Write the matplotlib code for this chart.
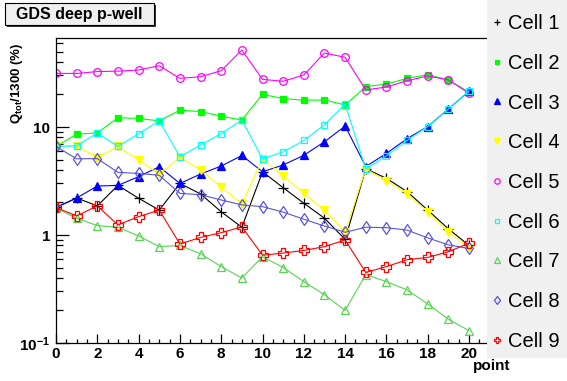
import matplotlib
matplotlib.use("Agg")
import matplotlib.pyplot as plt
from matplotlib.patches import Rectangle
from matplotlib.lines import Line2D
from matplotlib.ticker import FixedLocator, MultipleLocator, NullFormatter

plt.rcParams['font.family'] = ['Liberation Sans', 'DejaVu Sans']
plt.rcParams['mathtext.fontset'] = 'custom'
plt.rcParams['mathtext.rm'] = 'Liberation Sans:bold'
plt.rcParams['mathtext.it'] = 'Liberation Sans:bold'
plt.rcParams['mathtext.bf'] = 'Liberation Sans:bold'

# data (21 points, 0..20)
points = list(range(21))
cell1 = [1.80, 2.2, 1.86, 2.88, 2.19, 1.70, 3.0, 2.4, 1.64, 1.18, 3.85, 2.74, 1.97, 1.43, 0.91,
         4.1, 3.35, 2.52, 1.70, 1.14, 0.80]
cell2 = [6.6, 8.6, 8.8, 12.2, 12.0, 11.4, 14.3, 13.9, 12.6, 11.6, 20.1, 18.3, 17.7, 17.8, 16.0,
         23.6, 25.0, 28.2, 30.5, 27.3, 21.0]
cell3 = [1.80, 2.2, 2.84, 2.88, 3.47, 4.29, 3.0, 3.67, 4.35, 5.45, 3.85, 4.45, 5.47, 7.3, 10.2,
         4.3, 5.7, 7.8, 10.1, 14.7, 21.5]
cell4 = [6.6, 6.7, 5.2, 6.6, 4.95, 3.67, 5.24, 4.0, 2.77, 1.94, 5.06, 3.54, 2.43, 1.70, 1.07,
         4.08, 3.18, 2.4, 1.64, 1.07, 0.76]
cell5 = [31.4, 31.3, 32.6, 32.9, 33.7, 36.9, 28.2, 29.2, 33.2, 51.6, 27.6, 26.5, 30.3, 48.4, 44.2,
         22.0, 23.5, 26.8, 29.7, 27.3, 20.5]
cell6 = [6.6, 6.7, 8.8, 6.6, 8.66, 11.4, 5.3, 6.8, 8.7, 11.6, 5.06, 5.9, 7.5, 10.5, 16.3,
         4.08, 5.4, 7.5, 10.1, 14.7, 21.5]
cell7 = [1.77, 1.43, 1.22, 1.18, 0.98, 0.78, 0.80, 0.67, 0.51, 0.40, 0.63, 0.50, 0.37, 0.28, 0.20,
         0.43, 0.37, 0.31, 0.23, 0.166, 0.13]
cell8 = [6.6, 5.07, 5.1, 3.8, 3.72, 3.57, 2.43, 2.36, 2.11, 1.9, 1.83, 1.63, 1.4, 1.21, 1.06,
         1.18, 1.17, 1.11, 0.94, 0.81, 0.75]
cell9 = [1.80, 1.50, 1.86, 1.24, 1.48, 1.70, 0.825, 0.95, 1.05, 1.19, 0.65, 0.68, 0.72, 0.78, 0.90,
         0.45, 0.51, 0.59, 0.62, 0.70, 0.84]

labels = ["Cell 1", "Cell 2", "Cell 3", "Cell 4", "Cell 5", "Cell 6", "Cell 7", "Cell 8", "Cell 9"]
series = [cell1, cell2, cell3, cell4, cell5, cell6, cell7, cell8, cell9]
colors = ['black', '#00ff00', '#0000ff', '#ffff00', '#ff00ff', '#00ffff', '#59d454', '#5954d8', '#ff0000']
markers = ['+', 's', '^', 'v', 'o', 's', '^', 'd', 'P']
filled = [True, True, True, True, False, False, False, False, False]
msizes = [6.5, 5, 6, 6, 5.5, 5, 6, 6.5, 6.5]

W, H = 567, 381
fig = plt.figure(figsize=(W / 100, H / 100), dpi=100)
fig.patch.set_facecolor('white')

ax = fig.add_axes([56 / W, (H - 343) / H, (489.7 - 56) / W, (343 - 38) / H])
handles = []
for ys, lab, c, m, f, ms in zip(series, labels, colors, markers, filled, msizes):
    kw = dict(color=c, marker=m, mew=0.9)
    if not f:
        kw['mfc'] = 'none'
    ax.plot(points, ys, lw=0.8, ms=ms, **kw)
    handles.append(Line2D([], [], ls='none', ms=ms * 0.7, **kw))

ax.set_yscale('log')
ax.set_xlim(0, 21)
ax.set_ylim(0.1, 66.7)

ax.yaxis.set_major_locator(FixedLocator([0.1, 1, 10]))
ax.set_yticklabels(['$10^{-1}$', '1', '10'])
ax.yaxis.set_minor_locator(FixedLocator([k * 10.0 ** e for e in (-1, 0, 1) for k in range(2, 10)]))
ax.yaxis.set_minor_formatter(NullFormatter())
ax.xaxis.set_major_locator(MultipleLocator(2))
ax.xaxis.set_minor_locator(MultipleLocator(0.5))

ax.tick_params(axis='both', which='both', direction='in', top=False, right=False,
               width=0.9, labelsize=11)
ax.tick_params(axis='y', which='major', length=9.5, pad=4)
ax.tick_params(axis='y', which='minor', length=5)
ax.tick_params(axis='x', which='major', length=6.5, pad=3)
ax.tick_params(axis='x', which='minor', length=3.2)
for lab in ax.get_xticklabels() + ax.get_yticklabels():
    lab.set_fontweight('bold')
for sp in ax.spines.values():
    sp.set_linewidth(0.9)

fig.text(17 / W, 1 - 43 / H, 'Q$_{tot}$/1300 (%)', rotation=90, ha='center', va='top',
         fontsize=9.5, fontweight='bold')
fig.text(510 / W, 1 - 366 / H, 'point', ha='right', va='center', fontsize=11, fontweight='bold')

# title box with shadow
fig.patches.append(Rectangle((7 / W, 1 - 27 / H), 149 / W, 22 / H, transform=fig.transFigure,
                             facecolor='#333333', edgecolor='none', zorder=5))
fig.patches.append(Rectangle((5 / W, 1 - 25 / H), 149 / W, 22 / H, transform=fig.transFigure,
                             facecolor='#f0f0f0', edgecolor='black', lw=0.8, zorder=6))
fig.text(79 / W, 1 - 14 / H, 'GDS deep p-well', ha='center', va='center', fontsize=11.5,
         fontweight='bold', zorder=7)

# legend pane
fig.patches.append(Rectangle((487 / W, 1 - 358 / H), 80 / W, 358 / H, transform=fig.transFigure,
                             facecolor='#f0f0f0', edgecolor='none', zorder=5))
leg = fig.legend(handles, labels, loc='upper left', bbox_to_anchor=(487 / W, 1 - 10 / H),
                 frameon=False, fontsize=14.5, handlelength=0.6, handletextpad=0.25,
                 labelspacing=1.03, borderaxespad=0, borderpad=0.2, numpoints=1)
leg.set_zorder(8)

fig.savefig('out.png', dpi=100)
